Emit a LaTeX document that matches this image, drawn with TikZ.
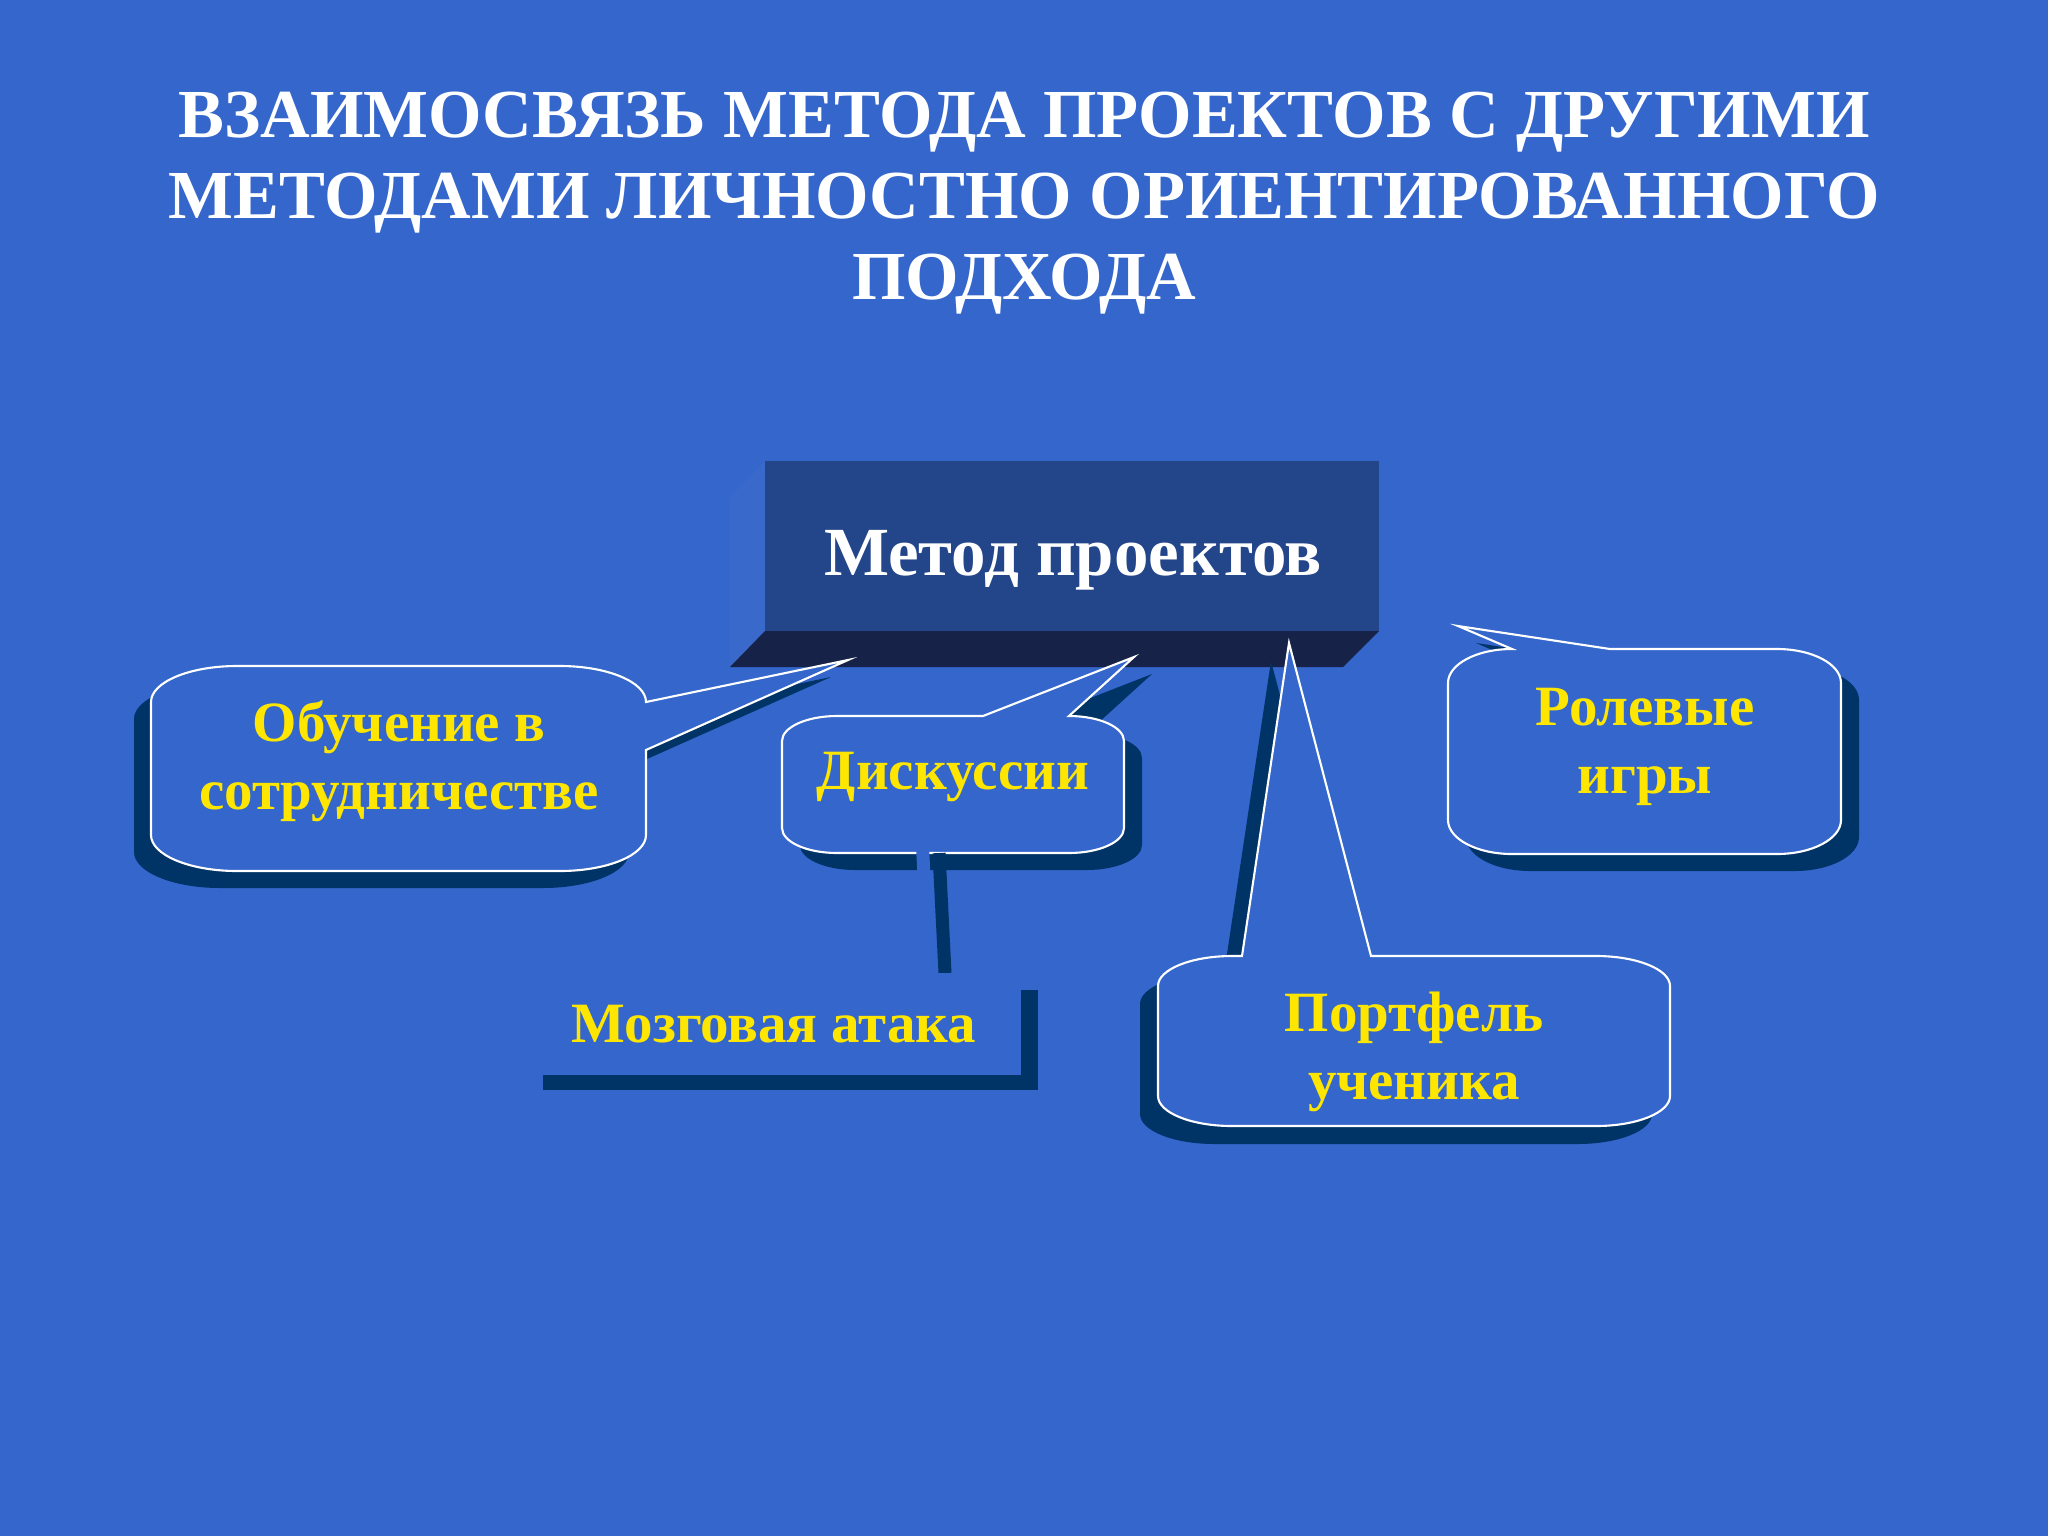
\documentclass[tikz,border=0pt]{standalone}
\usepackage{fontspec}
\setmainfont{Liberation Serif}
\definecolor{bgblue}{RGB}{52,102,204}
\definecolor{shadowblue}{RGB}{0,51,102}
\definecolor{frontblue}{RGB}{35,69,138}
\definecolor{bottomblue}{RGB}{22,34,72}
\definecolor{sideblue}{RGB}{57,105,202}
\definecolor{gold}{RGB}{255,230,0}
\tikzset{bub/.style = {fill=bgblue, draw=white, line width=0.6pt}}
\tikzset{shd/.style = {fill=shadowblue}}
\tikzset{lbl/.style = {text=gold, align=center, inner sep=0,
                       font=\bfseries\fontsize{16.2}{19.3}\selectfont}}
\tikzset{ttl/.style = {text=white, align=center, inner sep=0,
                       font=\bfseries\fontsize{19.55}{23}\selectfont}}
\newcommand{\bubble}[2]{\fill[shd, shift={#1}] #2; \draw[bub] #2;}

\begin{document}
\begin{tikzpicture}[x=0.01cm, y=-0.01cm]
    \fill[bgblue] (0,0) rectangle (2048,1536);
    \useasboundingbox (0,0) rectangle (2048,1536);
    \node[ttl] (title) at (1024,203) {ВЗАИМОСВЯЗЬ МЕТОДА ПРОЕКТОВ С ДРУГИМИ\\
        МЕТОДАМИ ЛИЧНОСТНО ОРИЕНТИРОВАННОГО\\ПОДХОДА};
    \fill[sideblue] (765,461) -- (730,497) -- (730,667) -- (765,631) -- cycle;
    \fill[bottomblue] (765,631) -- (1379,631) -- (1343,667) -- (730,667) -- cycle;
    \fill[frontblue] (765,461) rectangle (1379,631);
    \node[text=white, anchor=base, inner sep=0,
          font=\bfseries\fontsize{19.6}{23}\selectfont] (metod) at (1073,575) {Метод проектов};
    \bubble{(-17,17)}{(151,702) arc[start angle=180, end angle=270, x radius=86, y radius=36]
        -- (560,666) arc[start angle=270, end angle=360, x radius=86, y radius=36]
        -- (848,660) -- (646,750)
        -- (646,835) arc[start angle=0, end angle=90, x radius=86, y radius=36]
        -- (237,871) arc[start angle=90, end angle=180, x radius=86, y radius=36] -- cycle}
    \bubble{(18,17)}{(782,741) arc[start angle=180, end angle=270, x radius=55, y radius=25]
        -- (983,716) -- (1134,657) -- (1069,716)
        arc[start angle=270, end angle=360, x radius=55, y radius=25]
        -- (1124,828) arc[start angle=0, end angle=90, x radius=55, y radius=25]
        -- (837,853) arc[start angle=90, end angle=180, x radius=55, y radius=25] -- cycle}
    \bubble{(18,17)}{(1448,683) arc[start angle=180, end angle=270, x radius=64, y radius=34]
        -- (1458,626) -- (1610,649)
        -- (1777,649) arc[start angle=270, end angle=360, x radius=64, y radius=34]
        -- (1841,820) arc[start angle=0, end angle=90, x radius=64, y radius=34]
        -- (1512,854) arc[start angle=90, end angle=180, x radius=64, y radius=34] -- cycle}
    \bubble{(-18,18)}{(1158,986) arc[start angle=180, end angle=270, x radius=74, y radius=30]
        -- (1242,956) -- (1289,643) -- (1371,956)
        -- (1596,956) arc[start angle=270, end angle=360, x radius=74, y radius=30]
        -- (1670,1096) arc[start angle=0, end angle=90, x radius=74, y radius=30]
        -- (1232,1126) arc[start angle=90, end angle=180, x radius=74, y radius=30] -- cycle}
    \node[lbl] (obuch) at (399,761) {Обучение в\\сотрудничестве};
    \node[lbl, anchor=base] (disk) at (953,789) {Дискуссии};
    \node[lbl] (rol) at (1645,747) {Ролевые\\игры};
    \node[lbl] (portf) at (1414,1052) {Портфель\\ученика};
    \draw[shadowblue, line width=3.7pt] (939,853) -- (945,973);
    \draw[bgblue, line width=3.7pt] (922,836) -- (928,956);
    \fill[shd] (543,990) rectangle (1038,1090);
    \fill[bgblue] (526,973) rectangle (1021,1075);
    \node[lbl, anchor=base] (mozg) at (774,1042) {Мозговая атака};
\end{tikzpicture}
\end{document}
